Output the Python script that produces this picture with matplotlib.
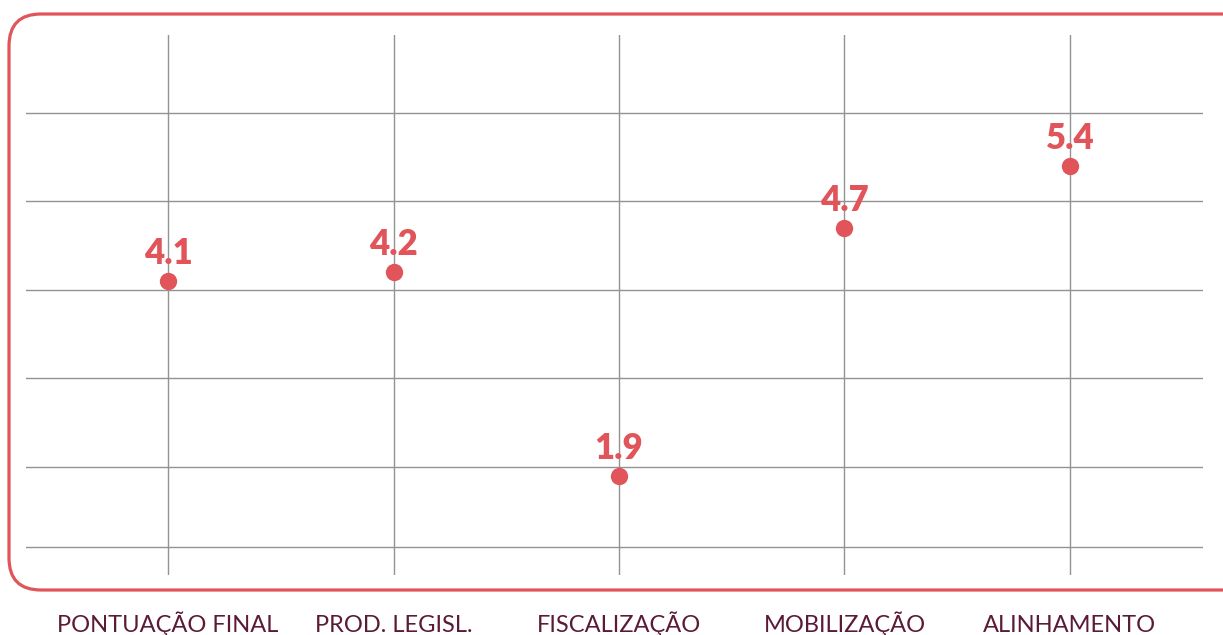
import matplotlib.pyplot as plt
from matplotlib.patches import FancyBboxPatch

categorias = ['PONTUAÇÃO FINAL', 'PROD. LEGISL.', 'FISCALIZAÇÃO', 'MOBILIZAÇÃO', 'ALINHAMENTO']
notas = [4.1, 4.2, 1.9, 4.7, 5.4]
grade_y = [1.1, 2, 3, 4, 5, 6]  # linhas horizontais da grade

vermelho = '#e0545a'
vinho = '#5b1a36'
cinza = '#939393'

plt.rcParams['font.family'] = ['Lato', 'DejaVu Sans']

W, H = 1223, 635
fig = plt.figure(figsize=(W / 100, H / 100), dpi=100)
ax = fig.add_axes([26 / W, 60 / H, 1177 / W, 540 / H])

x = list(range(len(categorias)))

for y in grade_y:
    ax.axhline(y, color=cinza, lw=1.0, zorder=1)
for xi in x:
    ax.axvline(xi, color=cinza, lw=1.0, zorder=1)

ax.plot(x, notas, 'o', ms=12.5, color=vermelho, mec='none', zorder=3)

for xi, v in zip(x, notas):
    ax.annotate(f'{v:.1f}', xy=(xi, v), xytext=(0, 12.3), textcoords='offset points',
                ha='center', va='baseline', fontsize=25, fontweight='heavy',
                color=vermelho, zorder=4)
    ax.annotate(categorias[xi], xy=(xi, 0), xycoords=('data', 'axes fraction'),
                xytext=(0, -41), textcoords='offset points', ha='center',
                va='baseline', fontsize=17, color=vinho, annotation_clip=False)

ax.set_xlim(-0.63, 4.59)
ax.set_ylim(0.78, 6.88)
ax.axis('off')

# moldura arredondada (lado direito sai da imagem)
moldura = FancyBboxPatch((9 / W, 45 / H), 1250 / W, 576 / H,
                         boxstyle='round,pad=0,rounding_size=%f' % (32 / W),
                         mutation_aspect=W / H, transform=fig.transFigure,
                         fill=False, edgecolor=vermelho, lw=2.3, clip_on=False)
fig.add_artist(moldura)

fig.savefig('out.png', dpi=100, facecolor='white')
